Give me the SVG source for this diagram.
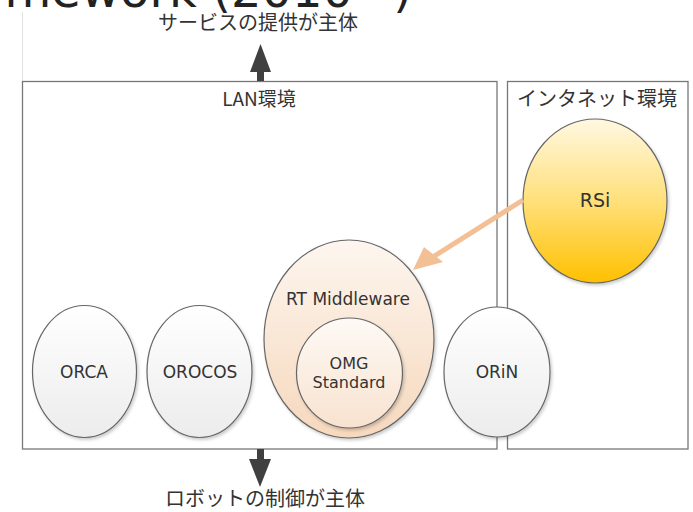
<svg xmlns="http://www.w3.org/2000/svg" width="693" height="512" viewBox="0 0 693 512">
<defs>
<style>
.t{font-family:"DejaVu Sans","Noto Sans CJK JP",sans-serif;fill:#333;text-anchor:middle}
.jp{font-family:"Noto Sans CJK JP","DejaVu Sans",sans-serif;fill:#333;text-anchor:middle}
.box{fill:#fff;stroke:#777;stroke-width:1.3}
.ell{stroke:#666;stroke-width:1.2}
</style>
<linearGradient id="gGray" x1="0" y1="0" x2="0" y2="1"><stop offset="0" stop-color="#ffffff"/><stop offset="1" stop-color="#ececec"/></linearGradient>
<linearGradient id="gPeach" x1="0" y1="0" x2="0" y2="1"><stop offset="0" stop-color="#fdf6ef"/><stop offset="1" stop-color="#f6d8bd"/></linearGradient>
<linearGradient id="gOmg" x1="0" y1="0" x2="0" y2="1"><stop offset="0" stop-color="#fefaf6"/><stop offset="1" stop-color="#f8e2cf"/></linearGradient>
<linearGradient id="gGold" x1="0" y1="0" x2="0" y2="1"><stop offset="0" stop-color="#fff8e2"/><stop offset="0.5" stop-color="#ffe07a"/><stop offset="1" stop-color="#ffc000"/></linearGradient>
<filter id="sh" x="-10%" y="-10%" width="130%" height="130%"><feDropShadow dx="1.5" dy="2" stdDeviation="1.5" flood-color="#000" flood-opacity="0.2"/></filter>
</defs>
<text class="t" x="412" y="7" style="text-anchor:end;font-size:48px;fill:#222">mework (2010~)</text>
<line x1="22.5" y1="12" x2="22.5" y2="81" stroke="#e2e2e2" stroke-width="1"/>
<g id="lan"><rect class="box" x="22.5" y="81.5" width="474.5" height="367.5"/><text class="jp" x="259" y="106" style="font-size:19px">LAN環境</text></g>
<g id="internet"><rect class="box" x="507.5" y="81.5" width="180.5" height="367.5"/><text class="jp" x="597" y="106" style="font-size:20px">インタネット環境</text></g>
<g id="top-label"><text class="jp" x="258" y="30" style="font-size:20px">サービスの提供が主体</text></g>
<g id="bottom-label"><text class="jp" x="265" y="506" style="font-size:20px">ロボットの制御が主体</text></g>
<g id="orca"><ellipse class="ell" cx="84.5" cy="371.5" rx="52" ry="66" fill="url(#gGray)" filter="url(#sh)"/><text class="t" x="84" y="378" style="font-size:17px">ORCA</text></g>
<g id="orocos"><ellipse class="ell" cx="199.5" cy="371.5" rx="52.5" ry="66" fill="url(#gGray)" filter="url(#sh)"/><text class="t" x="200" y="378" style="font-size:17px">OROCOS</text></g>
<g id="orin"><ellipse class="ell" cx="497" cy="372" rx="53" ry="65" fill="url(#gGray)" filter="url(#sh)"/><text class="t" x="497" y="377.5" style="font-size:17px">ORiN</text></g>
<g id="rtm"><ellipse class="ell" cx="349" cy="339" rx="85" ry="99" fill="url(#gPeach)" filter="url(#sh)"/><text class="t" x="348" y="305" style="font-size:17px">RT Middleware</text></g>
<g id="omg"><ellipse class="ell" cx="349.5" cy="373" rx="53" ry="55" fill="url(#gOmg)" filter="url(#sh)"/><text class="t" x="349" y="369" style="font-size:16px">OMG</text><text class="t" x="349" y="388" style="font-size:16px">Standard</text></g>
<g id="rsi"><ellipse class="ell" cx="595" cy="201" rx="72" ry="82" fill="url(#gGold)" filter="url(#sh)"/><text class="t" x="595" y="207" style="font-size:19px">RSi</text></g>
<g id="connectors">
<line x1="523" y1="200" x2="425" y2="262" stroke="#f3c096" stroke-width="5"/>
<polygon points="413,270 424,247 443,262" fill="#f3c096"/>
<rect x="257" y="70" width="7" height="11" fill="#404040"/>
<polygon points="260.5,44 250,72 271,72" fill="#404040"/>
<rect x="257" y="449" width="7" height="11" fill="#404040"/>
<polygon points="249,459 271,459 260,487" fill="#404040"/>
</g>
</svg>
